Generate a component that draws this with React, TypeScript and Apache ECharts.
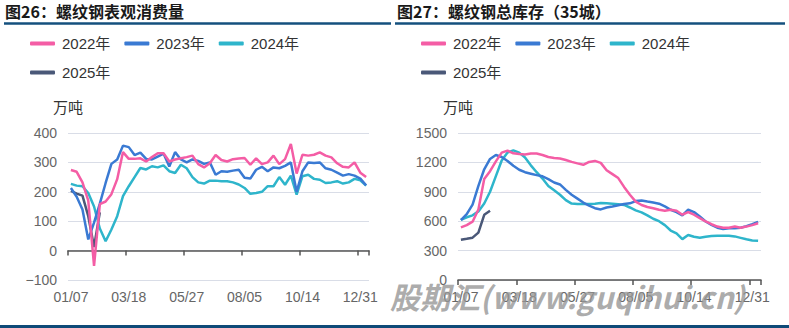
import React, { useEffect, useRef } from "react";
import * as echarts from "echarts";

const tickLabels = ["01/07", "03/18", "05/27", "08/05", "10/14", "12/31"];
const weeks = Array.from({ length: 52 }, (_, i) => (i % 10 === 0 ? tickLabels[i / 10] : "W" + (i + 1)));
const years = ["2022年", "2023年", "2024年", "2025年"];
const colors = ["#F45DA5", "#3A7AD3", "#2EB5CB", "#4A5878"];

const cons2022 = [274, 268, 232, 170, -52, 158, 167, 192, 243, 335, 312, 312, 314, 303, 318, 331, 331, 303, 310, 314, 318, 323, 294, 283, 297, 325, 308, 303, 311, 313, 315, 292, 314, 294, 300, 323, 294, 311, 363, 262, 326, 323, 326, 334, 323, 317, 297, 285, 283, 300, 265, 250];
const cons2023 = [213, 183, 140, 38, 95, 160, 230, 295, 310, 357, 352, 325, 333, 312, 310, 320, 330, 286, 335, 310, 300, 310, 305, 295, 300, 258, 270, 268, 272, 275, 248, 245, 275, 285, 270, 283, 280, 288, 300, 200, 270, 300, 298, 300, 280, 275, 265, 255, 260, 255, 245, 222];
const cons2024 = [227, 221, 219, 196, 150, 75, 32, 72, 117, 185, 219, 250, 281, 276, 287, 283, 290, 270, 264, 292, 280, 250, 232, 228, 238, 238, 236, 236, 232, 225, 213, 193, 196, 200, 219, 219, 250, 224, 255, 190, 253, 258, 244, 241, 230, 232, 236, 228, 232, 244, 239, 221];
const cons2025 = [203, 194, 187, 117, 12, 130];

const inv2022 = [537, 560, 595, 720, 1030, 1110, 1210, 1300, 1320, 1293, 1286, 1280, 1290, 1290, 1275, 1255, 1245, 1240, 1225, 1205, 1190, 1176, 1205, 1215, 1195, 1120, 1080, 1040, 950, 870, 800, 765, 745, 732, 717, 707, 717, 707, 666, 693, 666, 631, 597, 569, 545, 534, 534, 545, 534, 545, 560, 579];
const inv2023 = [610, 672, 770, 960, 1130, 1235, 1275, 1255, 1215, 1165, 1125, 1100, 1085, 1070, 1058, 1030, 995, 975, 920, 870, 830, 790, 760, 733, 720, 740, 750, 762, 775, 782, 805, 812, 800, 790, 779, 752, 717, 693, 659, 717, 693, 648, 597, 562, 534, 521, 528, 528, 534, 550, 570, 593];
const inv2024 = [615, 640, 660, 700, 780, 900, 1060, 1220, 1300, 1322, 1300, 1250, 1170, 1100, 1035, 960, 915, 870, 815, 780, 776, 776, 776, 779, 785, 784, 778, 772, 766, 740, 710, 690, 660, 625, 600, 560, 505, 476, 417, 459, 441, 431, 441, 448, 452, 452, 452, 445, 430, 415, 403, 400];
const inv2025 = [410, 420, 432, 484, 665, 706];

const FONT = "'Liberation Sans', 'Noto Sans CJK SC', sans-serif";
const CJK = "'Noto Sans CJK SC', sans-serif";

function makeXAxis(gridIndex: number) {
  return {
    type: "category",
    gridIndex,
    data: weeks,
    boundaryGap: true,
    axisLine: { lineStyle: { color: "#555", width: 1.5 } },
    axisTick: { show: true, interval: 9, length: 5, lineStyle: { color: "#555", width: 1.5 } },
    axisLabel: { interval: 9, color: "#666", fontSize: 14, fontFamily: FONT, margin: 10 },
    splitLine: { show: false },
  };
}

function makeYAxis(gridIndex: number, min: number, max: number, interval: number) {
  return {
    type: "value",
    gridIndex,
    min,
    max,
    interval,
    name: "万吨",
    nameLocation: "end",
    nameGap: 19,
    nameTextStyle: { color: "#333", fontSize: 15, fontFamily: CJK },
    axisLine: { show: false },
    axisTick: { show: false },
    axisLabel: {
      color: "#666",
      fontSize: 14,
      fontFamily: FONT,
      margin: 11,
      formatter: (v: number) => (v < 0 ? "\u2212" + Math.abs(v) : String(v)),
    },
    splitLine: { lineStyle: { color: "#D9DDE7", width: 1 } },
  };
}

function makeSeries(datas: number[][], idx: number) {
  return datas.map((d, k) => ({
    name: years[k],
    type: "line",
    xAxisIndex: idx,
    yAxisIndex: idx,
    data: d,
    showSymbol: false,
    symbol: "none",
    smooth: false,
    lineStyle: { width: 2.5, color: colors[k] },
    itemStyle: { color: colors[k] },
    z: 10 - k,
  }));
}

function makeLegend(left: number) {
  return {
    data: years,
    left,
    top: 36,
    width: 300,
    padding: 0,
    orient: "horizontal",
    icon: "roundRect",
    itemWidth: 25,
    itemHeight: 4,
    itemGap: 14,
    textStyle: { color: "#333", fontSize: 15, fontFamily: FONT, padding: [0, 0, 0, 2] },
  };
}

export default function App() {
  const ref = useRef<HTMLDivElement>(null);
  useEffect(() => {
    document.body.style.margin = "0";
    const chart = echarts.init(ref.current!, null, { renderer: "svg" });
    chart.setOption({
      animation: false,
      backgroundColor: "#fff",
      color: colors,
      grid: [
        { left: 68, right: 420, top: 133, bottom: 48 },
        { left: 458, right: 28, top: 133, bottom: 48 },
      ],
      legend: [makeLegend(30), makeLegend(421)],
      xAxis: [makeXAxis(0), makeXAxis(1)],
      yAxis: [makeYAxis(0, -100, 400, 100), makeYAxis(1, 0, 1500, 300)],
      series: [
        ...makeSeries([cons2022, cons2023, cons2024, cons2025], 0),
        ...makeSeries([inv2022, inv2023, inv2024, inv2025], 1),
      ],
      graphic: [
        { type: "text", left: 5, top: 3, style: { text: "图26：螺纹钢表观消费量", fill: "#1a1a1a", font: "bold 16px " + CJK } },
        { type: "text", left: 397, top: 3, style: { text: "图27：螺纹钢总库存（35城）", fill: "#1a1a1a", font: "bold 16px " + CJK } },
        { type: "line", shape: { x1: 4, y1: 23.5, x2: 391, y2: 23.5 }, style: { stroke: "#14507E", lineWidth: 2.5 } },
        { type: "line", shape: { x1: 395, y1: 23.5, x2: 785, y2: 23.5 }, style: { stroke: "#14507E", lineWidth: 2.5 } },
        { type: "line", shape: { x1: 0, y1: 326.5, x2: 789, y2: 326.5 }, style: { stroke: "#0E4A78", lineWidth: 3 } },
        {
          type: "text",
          left: 390,
          top: 281,
          z: 100,
          style: { text: "股期汇(www.guqihui.cn)", fill: "rgba(150,150,150,0.8)", font: "italic bold 30px " + CJK },
        },
      ],
    });
    return () => chart.dispose();
  }, []);
  return <div ref={ref} style={{ position: "fixed", left: 0, top: 0, width: 789, height: 328 }} />;
}
